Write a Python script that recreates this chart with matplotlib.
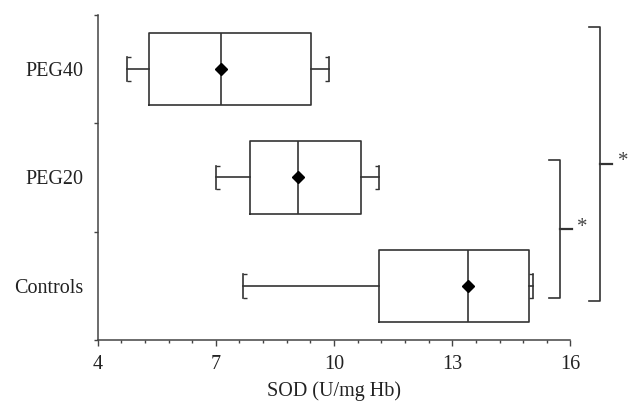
import numpy as np
import matplotlib
matplotlib.use('Agg')
import matplotlib.pyplot as plt
from matplotlib.ticker import AutoMinorLocator, FixedLocator

plt.rcParams['font.family'] = ['Liberation Serif', 'DejaVu Serif']

# data (Controls at bottom)
groups = ['Controls', 'PEG20', 'PEG40']
whis_low = [7.70, 7.00, 4.75]
q1 = [11.15, 7.88, 5.30]
medians = [13.39, 9.08, 7.14]
means = [13.39, 9.08, 7.14]
q3 = [14.96, 10.68, 9.41]
whis_high = [15.06, 11.14, 9.88]

# significance brackets: (low group idx, high group idx, x position)
sig_pairs = [(0, 1, 15.74), (0, 2, 16.76)]
sig_labels = ['*', '*']

line_col = '#333333'

fig = plt.figure(figsize=(6.28, 4.04), dpi=100)
ax = fig.add_axes([0.1554, 0.1584, 0.9084 - 0.1554, 0.9629 - 0.1584])

pos = np.arange(len(groups))
stats = []
for i in range(len(groups)):
    stats.append({'label': groups[i], 'whislo': whis_low[i], 'q1': q1[i],
                  'med': medians[i], 'q3': q3[i], 'whishi': whis_high[i],
                  'mean': means[i], 'fliers': []})

box_w = 0.667
cap_w = 0.22
ax.bxp(stats, positions=pos, vert=False, widths=box_w, showmeans=True,
       showfliers=False, capwidths=cap_w,
       boxprops=dict(color=line_col, linewidth=1.2),
       whiskerprops=dict(color=line_col, linewidth=1.2),
       capprops=dict(color=line_col, linewidth=1.2),
       medianprops=dict(color=line_col, linewidth=1.2),
       meanprops=dict(marker='D', markerfacecolor='black',
                      markeredgecolor='black', markersize=6.5))

# bracket-shaped caps
stub = 0.1
for i, p in enumerate(pos):
    for x, d in ((whis_low[i], stub), (whis_high[i], -stub)):
        for yy in (p - cap_w / 2, p + cap_w / 2):
            ax.plot([x, x + d], [yy, yy], color=line_col, lw=1.0,
                    solid_capstyle='butt', clip_on=False)

# significance brackets
arm = 0.28
tick_len = 0.3
for (a, b, x), lab in zip(sig_pairs, sig_labels):
    y0 = pos[a] - 0.111 - (0.028 if b == 2 else 0)
    y1 = pos[b] + (0.157 if b == 1 else 0.386)
    ym = (y0 + y1) / 2
    ax.plot([x - arm, x, x, x - arm], [y1, y1, y0, y0], color=line_col,
            lw=1.2, clip_on=False)
    ax.plot([x, x + tick_len], [ym, ym], color=line_col, lw=1.6,
            clip_on=False)
    ax.text(x + tick_len + 0.27, ym + 0.02, lab, ha='center', va='center',
            fontsize=15, color='#444444', clip_on=False)

ax.set_xlim(4, 16)
ax.set_ylim(-0.5, len(groups) - 0.5)
ax.set_xticks([4, 7, 10, 13, 16])
ax.xaxis.set_minor_locator(AutoMinorLocator(5))
ax.set_yticks(pos)
ax.set_yticklabels(groups)
ax.yaxis.set_minor_locator(FixedLocator(np.arange(-0.5, len(groups), 1.0)))

ax.tick_params(axis='x', which='major', length=4, width=1, colors='#444444',
               labelcolor='#222222', labelsize=14.5, pad=7)
ax.tick_params(axis='x', which='minor', length=2.5, width=1, colors='#444444')
ax.tick_params(axis='y', which='major', length=0, labelsize=14.5, pad=10,
               labelcolor='#222222')
ax.tick_params(axis='y', which='minor', length=3, width=1, colors='#444444')

for s in ('top', 'right'):
    ax.spines[s].set_visible(False)
for s in ('left', 'bottom'):
    ax.spines[s].set_color('#444444')
    ax.spines[s].set_linewidth(1.1)

ax.set_xlabel('SOD (U/mg Hb)', fontsize=14.5, color='#222222', labelpad=5)

fig.savefig('out.png', dpi=100)
